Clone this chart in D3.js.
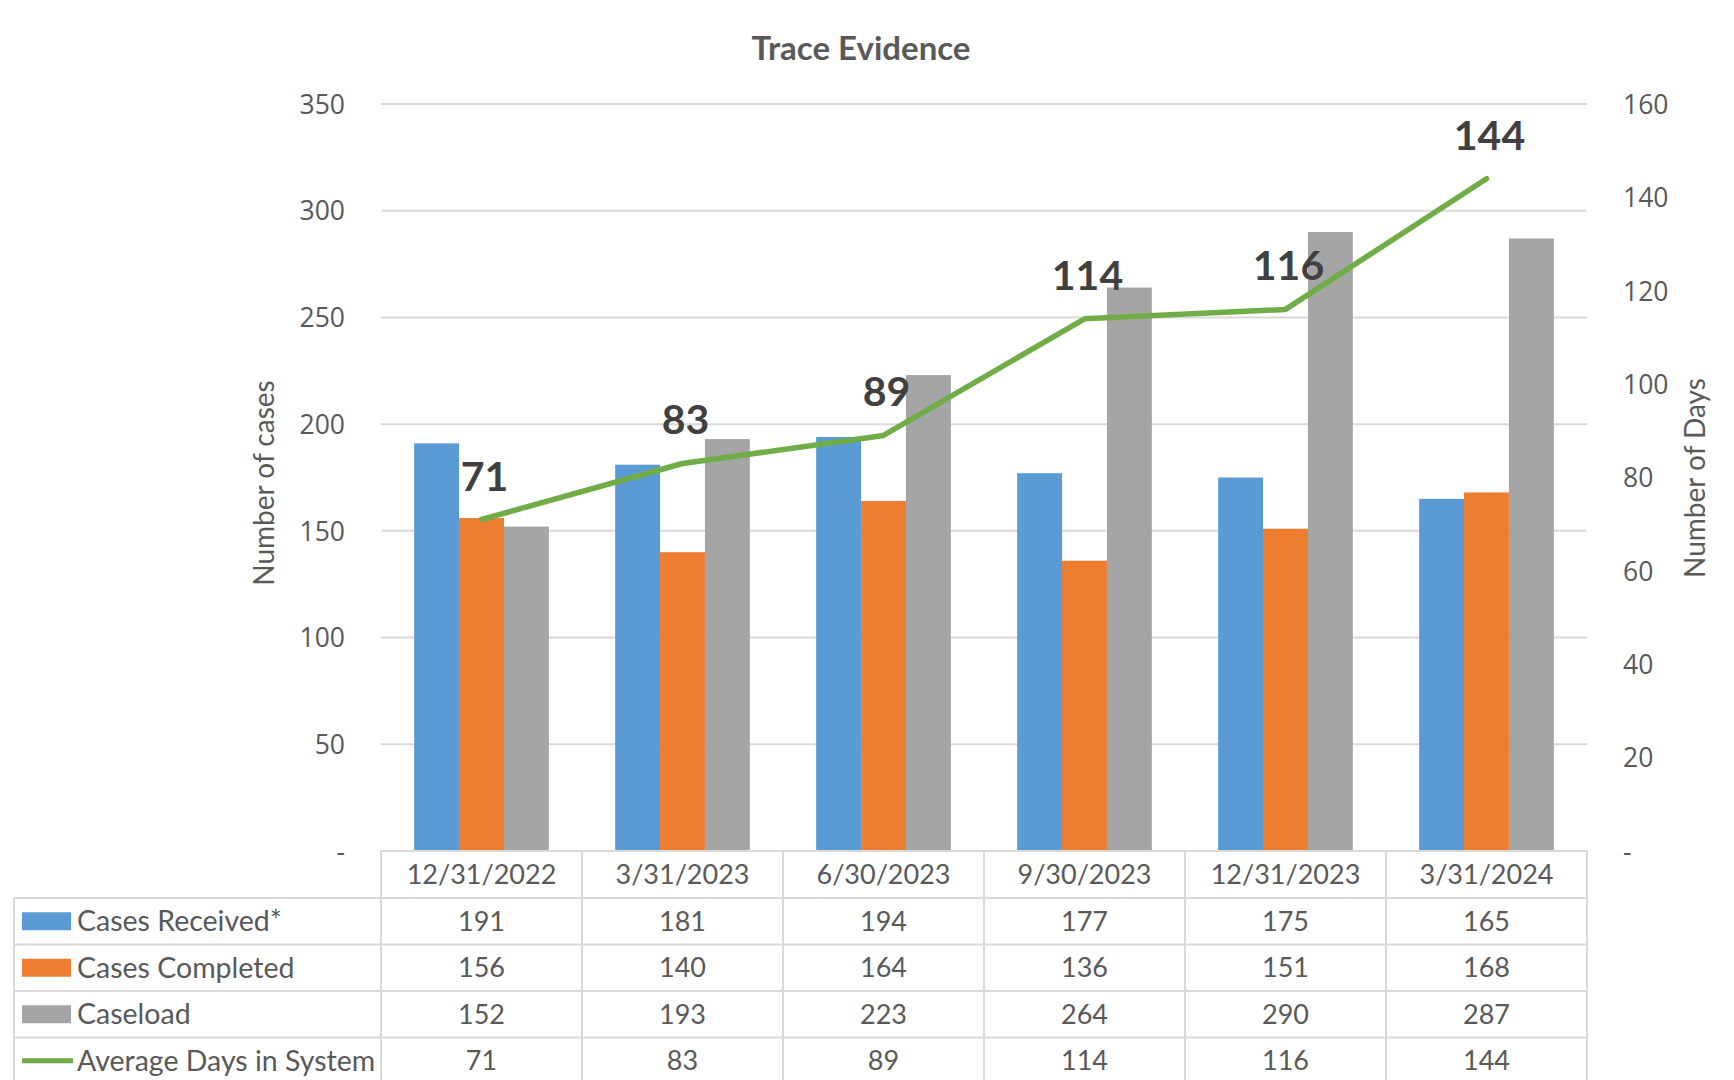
<!DOCTYPE html>
<html>
<head>
<meta charset="utf-8">
<script src="https://cdn.jsdelivr.net/npm/d3@7"></script>
<style>
  body { margin: 0; background: #fff; }
  svg { display: block; }
</style>
</head>
<body>
<svg id="chart"></svg>
<script>
// chart data
const categories = ["12/31/2022", "3/31/2023", "6/30/2023", "9/30/2023", "12/31/2023", "3/31/2024"];
const casesReceived = [191, 181, 194, 177, 175, 165];
const casesCompleted = [156, 140, 164, 136, 151, 168];
const caseload = [152, 193, 223, 264, 290, 287];
const avgDays = [71, 83, 89, 114, 116, 144];
const leftTicks = [0, 50, 100, 150, 200, 250, 300, 350];
const rightTicks = [0, 20, 40, 60, 80, 100, 120, 140, 160];

const seriesNames = ["Cases Received*", "Cases Completed", "Caseload", "Average Days in System"];
const barColors = ["#5B9BD5", "#ED7D31", "#A5A5A5"];
const lineColor = "#70AD47";

const width = 1734, height = 1080;
const plotLeft = 381, plotRight = 1587, plotTop = 104, plotBottom = 851;
const rowH = 46.5, headerH = 47, tableLeft = 14;
const font = "Lato, 'Open Sans', sans-serif";
const textColor = "#595959";
const gridColor = "#d9d9d9";

let svg = d3.select('#chart')
  .attr('width', width)
  .attr('height', height);

let xScale = d3.scaleBand()
  .domain(categories)
  .range([plotLeft, plotRight])
  .padding(0);

let yLeft = d3.scaleLinear()
  .domain([0, 350])
  .range([plotBottom, plotTop]);

let yRight = d3.scaleLinear()
  .domain([0, 160])
  .range([plotBottom, plotTop]);

// inner scale for the three bars in a group
let groupWidth = xScale.bandwidth() * 0.67;
let xInner = d3.scaleBand()
  .domain([0, 1, 2])
  .range([0, groupWidth]);

// gridlines
svg.append('g')
  .selectAll('line')
  .data(leftTicks.filter(d => d > 0))
  .enter().append('line')
  .attr('x1', plotLeft)
  .attr('x2', plotRight)
  .attr('y1', d => yLeft(d))
  .attr('y2', d => yLeft(d))
  .style('stroke', gridColor)
  .style('stroke-width', 2);

// left axis
let leftAxis = svg.append('g')
  .attr('transform', `translate(${plotLeft - 36},0)`)
  .call(d3.axisLeft(yLeft).tickValues(leftTicks).tickSize(0).tickFormat(d => d === 0 ? "-" : d));
leftAxis.select('.domain').remove();
leftAxis.selectAll('text')
  .attr('x', 0)
  .attr('dy', '0.35em')
  .style('font-family', "'Open Sans', sans-serif")
  .style('font-size', '26.5px')
  .style('fill', textColor);

// right axis
let rightAxis = svg.append('g')
  .attr('transform', `translate(${plotRight + 36},0)`)
  .call(d3.axisRight(yRight).tickValues(rightTicks).tickSize(0).tickFormat(d => d === 0 ? "-" : d));
rightAxis.select('.domain').remove();
rightAxis.selectAll('text')
  .attr('x', 0)
  .attr('dy', '0.35em')
  .style('font-family', "'Open Sans', sans-serif")
  .style('font-size', '26.5px')
  .style('fill', textColor);

// bars
let barSeries = [casesReceived, casesCompleted, caseload];
barSeries.forEach((values, si) => {
  svg.append('g')
    .selectAll('rect')
    .data(values)
    .enter().append('rect')
    .attr('x', (d, i) => xScale(categories[i]) + (xScale.bandwidth() - groupWidth) / 2 + xInner(si))
    .attr('width', xInner.bandwidth())
    .attr('y', d => yLeft(d))
    .attr('height', d => plotBottom - yLeft(d))
    .style('fill', barColors[si]);
});

// average days line
let line = d3.line()
  .x((d, i) => xScale(categories[i]) + xScale.bandwidth() / 2)
  .y(d => yRight(d));

svg.append('path')
  .datum(avgDays)
  .attr('d', line)
  .style('fill', 'none')
  .style('stroke', lineColor)
  .style('stroke-width', 5.5)
  .style('stroke-linejoin', 'round')
  .style('stroke-linecap', 'round');

// line data labels
svg.append('g')
  .selectAll('text')
  .data(avgDays)
  .enter().append('text')
  .attr('x', (d, i) => xScale(categories[i]) + xScale.bandwidth() / 2 + 3)
  .attr('y', d => yRight(d) - 29)
  .attr('text-anchor', 'middle')
  .style('font-family', font)
  .style('font-weight', 'bold')
  .style('font-size', '41px')
  .style('fill', '#404040')
  .text(d => d);

// title
svg.append('text')
  .attr('x', 861)
  .attr('y', 60)
  .attr('text-anchor', 'middle')
  .style('font-family', font)
  .style('font-weight', 'bold')
  .style('font-size', '33px')
  .style('fill', textColor)
  .text("Trace Evidence");

// axis titles
svg.append('text')
  .attr('transform', `translate(274, 483) rotate(-90)`)
  .attr('text-anchor', 'middle')
  .style('font-family', font)
  .style('font-size', '28px')
  .style('fill', textColor)
  .text("Number of cases");

svg.append('text')
  .attr('transform', `translate(1705, 478) rotate(-90)`)
  .attr('text-anchor', 'middle')
  .style('font-family', font)
  .style('font-size', '28px')
  .style('fill', textColor)
  .text("Number of Days");

// data table
let table = svg.append('g');
let rowTops = seriesNames.map((d, i) => plotBottom + headerH + i * rowH);
let tableBottom = plotBottom + headerH + seriesNames.length * rowH;

// horizontal lines
table.append('line')
  .attr('x1', plotLeft).attr('x2', plotRight)
  .attr('y1', plotBottom).attr('y2', plotBottom);
table.selectAll('.hline')
  .data(rowTops.concat([tableBottom]))
  .enter().append('line')
  .attr('class', 'hline')
  .attr('x1', tableLeft).attr('x2', plotRight)
  .attr('y1', d => d).attr('y2', d => d);
// vertical lines
table.selectAll('.vline')
  .data(categories.concat(["end"]))
  .enter().append('line')
  .attr('class', 'vline')
  .attr('x1', (d, i) => plotLeft + i * xScale.bandwidth())
  .attr('x2', (d, i) => plotLeft + i * xScale.bandwidth())
  .attr('y1', plotBottom)
  .attr('y2', tableBottom);
table.append('line')
  .attr('x1', tableLeft).attr('x2', tableLeft)
  .attr('y1', rowTops[0]).attr('y2', tableBottom);
table.selectAll('line')
  .style('stroke', gridColor)
  .style('stroke-width', 2);

// header labels
table.selectAll('.head')
  .data(categories)
  .enter().append('text')
  .attr('class', 'head')
  .attr('x', d => xScale(d) + xScale.bandwidth() / 2)
  .attr('y', plotBottom + headerH / 2)
  .attr('dy', '0.35em')
  .attr('text-anchor', 'middle')
  .style('font-family', font)
  .style('font-size', '27px')
  .style('fill', textColor)
  .text(d => d);

// legend keys and row values
let rows = [casesReceived, casesCompleted, caseload, avgDays];
rows.forEach((values, ri) => {
  let yMid = rowTops[ri] + rowH / 2;
  if (ri < 3) {
    table.append('rect')
      .attr('x', 22).attr('y', yMid - 9)
      .attr('width', 49).attr('height', 18)
      .style('fill', barColors[ri]);
  } else {
    table.append('line')
      .attr('x1', 22).attr('x2', 73)
      .attr('y1', yMid).attr('y2', yMid)
      .style('stroke', lineColor)
      .style('stroke-width', 5);
  }
  table.append('text')
    .attr('x', 77)
    .attr('y', yMid)
    .attr('dy', '0.35em')
    .style('font-family', font)
    .style('font-size', '28.5px')
    .style('fill', textColor)
    .text(seriesNames[ri]);
  table.append('g')
    .selectAll('text')
    .data(values)
    .enter().append('text')
    .attr('x', (d, i) => xScale(categories[i]) + xScale.bandwidth() / 2)
    .attr('y', yMid)
    .attr('dy', '0.35em')
    .attr('text-anchor', 'middle')
    .style('font-family', font)
    .style('font-size', '27px')
    .style('fill', textColor)
    .text(d => d);
});
</script>
</body>
</html>
